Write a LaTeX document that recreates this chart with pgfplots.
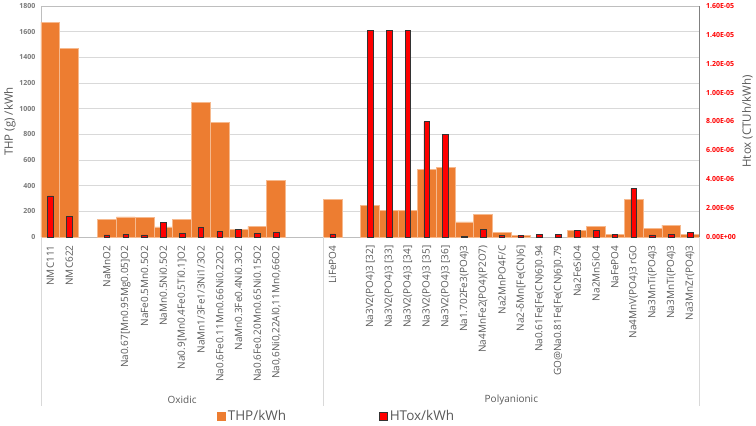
\documentclass[border=0pt]{standalone}
\usepackage{pgfplots}
\pgfplotsset{compat=1.18}
\usepackage{fontspec}
\setmainfont{Open Sans}
\definecolor{thp}{HTML}{ED7D31}
\definecolor{thpedge}{HTML}{F6B98E}
\definecolor{htox}{HTML}{FF0000}
\definecolor{txt}{HTML}{595959}
\definecolor{gridc}{HTML}{D9D9D9}
\begin{document}
\begin{tikzpicture}
\path[use as bounding box] (-41pt,-189pt) rectangle (715pt,237pt);
\begin{axis}[
  name=main, at={(0pt,0pt)}, anchor=south west,
  scale only axis, width=658.5pt, height=231pt,
  xmin=-0.5, xmax=34.5, ymin=0, ymax=1800,
  clip=false,
  /pgf/number format/assume math mode=true,
  major tick length=0pt,
  axis line style={gridc!70!gray},
  ymajorgrids, grid style={gridc, line width=0.6pt},
  ytick={0,200,400,600,800,1000,1200,1400,1600,1800},
  yticklabels={0,200,400,600,800,1000,1200,1400,1600,1800},
  yticklabel style={font=\bfseries\fontsize{7}{8}\selectfont, text=txt!80, xshift=-2pt, inner ysep=0.5pt},
  xtick={0,1,3,4,5,6,7,8,9,10,11,12,15,17,18,19,20,21,22,23,24,25,26,27,28,29,30,31,32,33,34},
  xticklabels={NMC111,NMC622,NaMnO2,{Na0.67[Mn0.95Mg0.05]O2},NaFe0.5Mn0.5O2,NaMn0.5Ni0.5O2,{Na0.9[Mn0.4Fe0.5Ti0.1]O2},NaMn1/3Fe1/3Ni1/3O2,Na0.6Fe0.11Mn0.66Ni0.22O2,NaMn0.3Fe0.4Ni0.3O2,Na0.6Fe0.20Mn0.65Ni0.15O2,{Na0,6Ni0,22Al0,11Mn0,66O2},LiFePO4,{Na3V2(PO4)3 [32]},{Na3V2(PO4)3 [33]},{Na3V2(PO4)3 [34]},{Na3V2(PO4)3 [35]},{Na3V2(PO4)3 [36]},Na1.702Fe3(PO4)3,Na4MnFe2(PO4)(P2O7),Na2MnPO4F/C,{Na2-δMn[Fe(CN)6]},{Na0.61Fe[Fe(CN)6]0.94},{GO@Na0.81Fe[Fe(CN)6]0.79},Na2FeSiO4,Na2MnSiO4,NaFePO4,{Na4MnV(PO4)3 rGO},Na3MnTi(PO4)3,Na3MnTi(PO4)3,Na3MnZr(PO4)3},
  xticklabel style={yshift=-5pt, rotate=90, anchor=east, font=\fontsize{10}{12}\selectfont, text=txt},
  ylabel={THP (g) /kWh},
  every axis y label/.style={at={(rel axis cs:0,0.5)}, xshift=-31pt, rotate=90, anchor=center, font=\fontsize{11.5}{14}\selectfont, text=txt},
  legend style={at={(0.263,-0.775)}, anchor=west, draw=none, fill=none, font=\fontsize{13.5}{16}\selectfont, text=txt, legend columns=2, /tikz/every even column/.append style={column sep=91pt}},
  legend cell align=left,
]
\addplot[ybar, bar width=1, fill=thp, draw=thpedge, line width=0.7pt, forget plot] coordinates {
 (0,1675) (1,1468) (3,137) (4,156) (5,153) (6,78) (7,135) (8,1050) (9,892) (10,60) (11,83) (12,443)
 (15,296) (17,244) (18,210) (19,210) (20,524) (21,545) (22,117) (23,176) (24,34) (25,13)
 (28,54) (29,80) (30,23) (31,293) (32,65) (33,93) (34,23)
};
\addlegendimage{legend image code/.code={\fill[thp] (0pt,-4pt) rectangle (8pt,4pt);}}
\addlegendentry{THP/kWh}
\addlegendimage{legend image code/.code={\draw[fill=htox, draw=black!80, line width=0.6pt] (0pt,-4pt) rectangle (8pt,4pt);}}
\addlegendentry{HTox/kWh}
\draw[gridc, line width=0.6pt] (axis cs:-0.5,0) -- ++(0pt,-169pt);
\draw[gridc, line width=0.6pt] (axis cs:14.5,0) -- ++(0pt,-169pt);
\draw[gridc, line width=0.6pt] (axis cs:34.5,0) -- ++(0pt,-169pt);
\node[font=\fontsize{10}{12}\selectfont, text=txt] at (axis cs:7,0) [yshift=-163pt] {Oxidic};
\node[font=\fontsize{10}{12}\selectfont, text=txt] at (axis cs:24.5,0) [yshift=-163pt] {Polyanionic};
\end{axis}
\begin{axis}[
  at={(0pt,0pt)}, anchor=south west,
  scale only axis, width=658.5pt, height=231pt,
  xmin=-0.5, xmax=34.5, ymin=0, ymax=1.6e-5,
  axis y line*=right, axis x line=none,
  xtick=\empty,
  scaled y ticks=false,
  major tick length=0pt,
  axis line style={gray},
  ytick={0,2e-6,4e-6,6e-6,8e-6,1e-5,1.2e-5,1.4e-5,1.6e-5},
  yticklabels={0.00E+00,2.00E-06,4.00E-06,6.00E-06,8.00E-06,1.00E-05,1.20E-05,1.40E-05,1.60E-05},
  yticklabel style={font=\bfseries\fontsize{7}{8}\selectfont, text=htox, xshift=3pt, inner ysep=0.5pt},
  ylabel={Htox (CTUh/kWh)},
  every axis y label/.style={at={(rel axis cs:1,0.5)}, xshift=48pt, rotate=90, anchor=center, font=\fontsize{11.5}{14}\selectfont, text=txt},
]
\addplot[ybar, bar width=0.3, fill=htox, draw=black!80, line width=0.6pt] coordinates {
 (0,2.84e-6) (1,1.45e-6) (3,0.14e-6) (4,0.16e-6) (5,0.14e-6) (6,0.99e-6) (7,0.23e-6) (8,0.67e-6) (9,0.41e-6) (10,0.53e-6) (11,0.25e-6) (12,0.32e-6)
 (15,0.21e-6) (17,14.32e-6) (18,14.32e-6) (19,14.32e-6) (20,7.98e-6) (21,7.10e-6) (22,0.05e-6) (23,0.51e-6) (24,0.12e-6) (25,0.09e-6) (26,0.18e-6) (27,0.16e-6)
 (28,0.44e-6) (29,0.44e-6) (30,0.16e-6) (31,3.37e-6) (32,0.14e-6) (33,0.18e-6) (34,0.30e-6)
};
\end{axis}
\end{tikzpicture}
\end{document}
